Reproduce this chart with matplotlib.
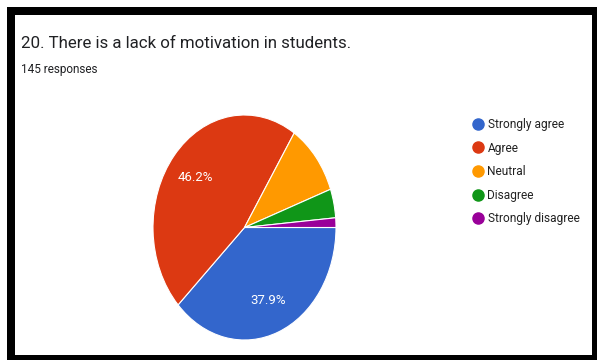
import matplotlib
matplotlib.use("Agg")
import matplotlib.pyplot as plt
from matplotlib.lines import Line2D
from matplotlib.patches import Rectangle

title = "20. There is a lack of motivation in students."
n_responses = 145
labels = ["Strongly agree", "Agree", "Neutral", "Disagree", "Strongly disagree"]
counts = [55, 67, 15, 6, 2]
colors = ["#3366cc", "#dc3912", "#ff9900", "#109618", "#990099"]

plt.rcParams["font.family"] = ["Roboto", "DejaVu Sans"]

W, H = 597, 360
fig = plt.figure(figsize=(W / 100, H / 100), dpi=100)
fig.patch.set_facecolor("white")

# thick black frame round the card
fig.patches.append(Rectangle((11 / W, 1 - 359 / H), 585 / W, 348 / H,
                             transform=fig.transFigure, fill=False,
                             edgecolor="black", linewidth=8 * 0.72))

fig.text(21 / W, 1 - 44 / H, title, fontsize=12.2, color="#202124",
         ha="left", va="center")
fig.text(21 / W, 1 - 69 / H, f"{n_responses} responses", fontsize=8.5,
         color="#202124", ha="left", va="center")

ax = fig.add_axes([153 / W, 1 - 340 / H, 183 / W, 225 / H])


def pct_label(p):
    return f"{p:.1f}%" if p > 20 else ""


wedges, texts, autotexts = ax.pie(
    counts, colors=colors, startangle=0, counterclock=False,
    autopct=pct_label, pctdistance=0.7,
    wedgeprops=dict(edgecolor="white", linewidth=0.8),
    textprops=dict(color="white", fontsize=9.5))
ax.set_aspect("auto")
ax.set_xlim(-1, 1)
ax.set_ylim(-1, 1)
ax.axis("off")

handles = [Line2D([0], [0], marker="o", linestyle="", markersize=8,
                  markerfacecolor=c, markeredgecolor=c) for c in colors]
fig.legend(handles, labels, loc="upper left",
           bbox_to_anchor=(466 / W, 1 - 112 / H), frameon=False,
           fontsize=8.6, labelcolor="#222222", handlelength=1.0,
           handletextpad=0.3, labelspacing=0.89, borderpad=0)

fig.savefig("out.png", dpi=100)
